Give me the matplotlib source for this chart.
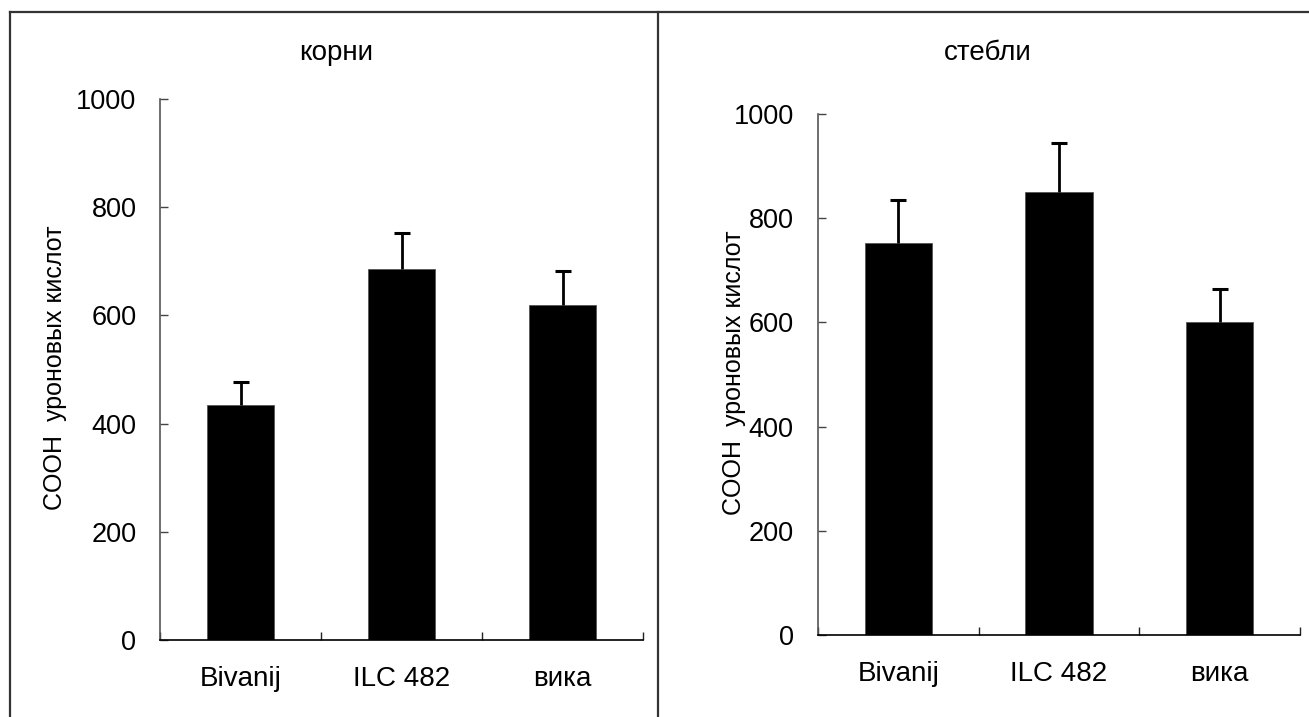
import matplotlib
matplotlib.use("Agg")
import matplotlib.pyplot as plt
from matplotlib.lines import Line2D

plt.rcParams['font.family'] = ['Liberation Sans', 'DejaVu Sans']

categories = ["Bivanij", "ILC 482", "вика"]
roots_values = [434, 686, 619]
roots_errors = [42, 66, 63]
stems_values = [752, 850, 600]
stems_errors = [83, 94, 64]
titles = ["корни", "стебли"]
ylabel = "COOH  уроновых кислот"
yticks = [0, 200, 400, 600, 800, 1000]

W, H = 1309, 717
fig = plt.figure(figsize=(W / 100, H / 100), dpi=100)

def fx(px):
    return px / W

def fy(py):
    return 1 - py / H

# panel frames
frame_kw = dict(color="#333333", lw=1.6, transform=fig.transFigure)
fig.add_artist(Line2D([fx(10), fx(1309)], [fy(12), fy(12)], **frame_kw))
fig.add_artist(Line2D([fx(10), fx(10)], [fy(12), fy(720)], **frame_kw))
fig.add_artist(Line2D([fx(658), fx(658)], [fy(12), fy(720)], **frame_kw))

axes_boxes = [
    (160, 643, 99, 640),
    (818, 1300, 114, 635),
]
title_pos = [(336, 53), (988, 53)]
ylabel_pos = [(55, 368), (734, 373)]
ypads = [17, 17.5]
data = [(roots_values, roots_errors), (stems_values, stems_errors)]

for i, (x0, x1, yt, yb) in enumerate(axes_boxes):
    ax = fig.add_axes([fx(x0), fy(yb), (x1 - x0) / W, (yb - yt) / H])
    vals, errs = data[i]
    xs = list(range(len(categories)))
    tops = [v + e for v, e in zip(vals, errs)]
    ax.bar(xs, vals, width=0.42, color="black", edgecolor="#555555", linewidth=0.6, zorder=2)
    ax.errorbar(xs, vals, yerr=[[0] * len(errs), errs], fmt="none", ecolor="black",
                elinewidth=2.0, capsize=0, zorder=3)
    ax.plot(xs, tops, linestyle="none", marker="_", markersize=11.5,
            markeredgewidth=2.2, color="black", zorder=3)
    ax.set_xlim(-0.5, 2.5)
    ax.set_ylim(0, 1000)
    ax.set_yticks(yticks)
    ax.set_yticklabels([str(t) for t in yticks])
    ax.set_xticks(xs)
    ax.set_xticklabels(categories)
    ax.set_xticks([-0.5, 0.5, 1.5, 2.5], minor=True)
    ax.tick_params(axis="x", which="major", length=0, pad=19, labelsize=20)
    ax.tick_params(axis="x", which="minor", direction="in", length=6, width=1, color="#222222")
    ax.tick_params(axis="y", which="major", direction="in", length=6, width=1,
                   pad=ypads[i], labelsize=19.5, color="#444444")
    for s in ["top", "right"]:
        ax.spines[s].set_visible(False)
    ax.spines["left"].set_color("#555555")
    ax.spines["left"].set_linewidth(1.2)
    ax.spines["bottom"].set_color("black")
    ax.spines["bottom"].set_linewidth(1.2)
    fig.text(fx(title_pos[i][0]), fy(title_pos[i][1]), titles[i], ha="center", va="center", fontsize=20)
    fig.text(fx(ylabel_pos[i][0]), fy(ylabel_pos[i][1]), ylabel, ha="center", va="center",
             rotation=90, fontsize=18)

fig.savefig("out.png", dpi=100)
